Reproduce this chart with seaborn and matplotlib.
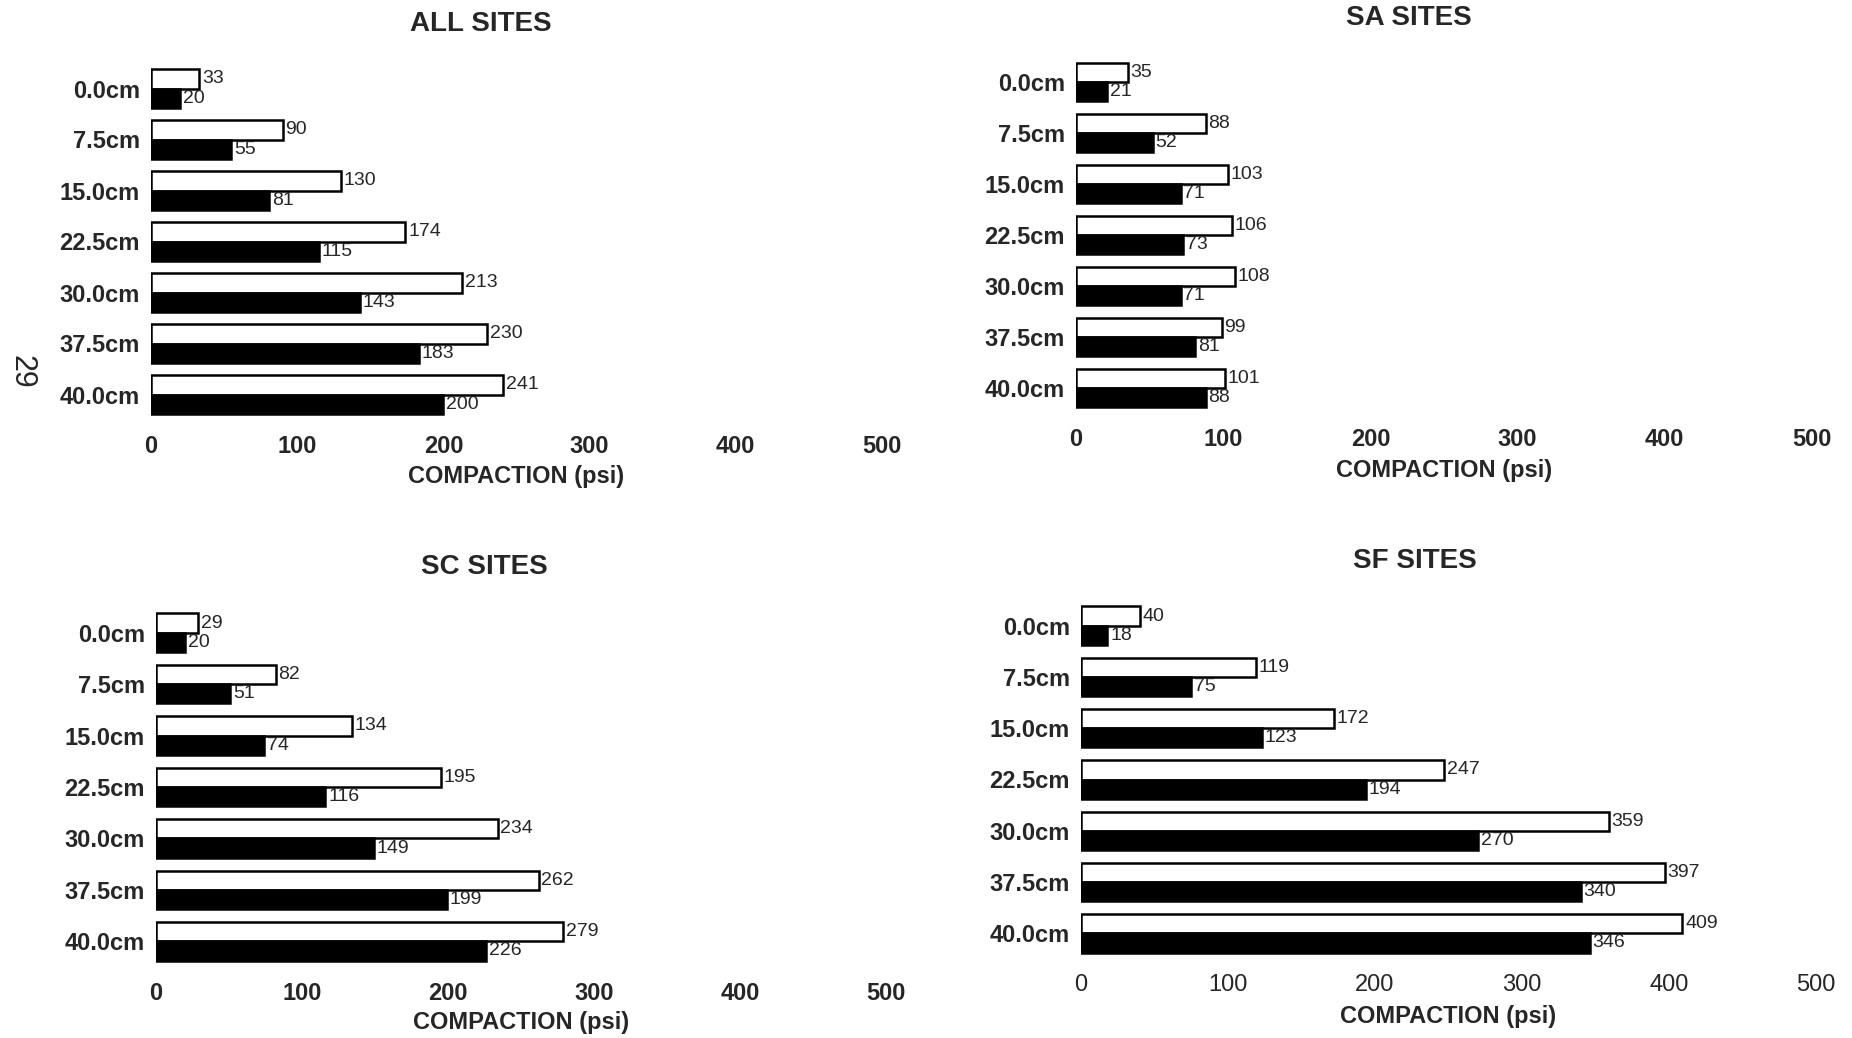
import matplotlib
matplotlib.use("Agg")
import matplotlib.pyplot as plt
import seaborn as sns
import pandas as pd

# Soil compaction by probe depth, two readings per depth
depths = ["0.0cm", "7.5cm", "15.0cm", "22.5cm", "30.0cm", "37.5cm", "40.0cm"]
x_ticks = [0, 100, 200, 300, 400, 500]
x_label = "COMPACTION (psi)"

all_open = [33, 90, 130, 174, 213, 230, 241]
all_solid = [20, 55, 81, 115, 143, 183, 200]

sa_open = [35, 88, 103, 106, 108, 99, 101]
sa_solid = [21, 52, 71, 73, 71, 81, 88]

sc_open = [29, 82, 134, 195, 234, 262, 279]
sc_solid = [20, 51, 74, 116, 149, 199, 226]

sf_open = [40, 119, 172, 247, 359, 397, 409]
sf_solid = [18, 75, 123, 194, 270, 340, 346]

titles = ["ALL SITES", "SA SITES", "SC SITES", "SF SITES"]
page_number = "29"

sns.set_theme(style="white")
NARROW = ["Liberation Sans Narrow", "Liberation Sans", "DejaVu Sans"]
plt.rcParams["font.family"] = NARROW

W, H = 1852, 1038
fig = plt.figure(figsize=(W / 100, H / 100), dpi=100)


def frame(open_vals, solid_vals):
    return pd.DataFrame({
        "depth": depths * 2,
        "reading": ["open"] * len(depths) + ["solid"] * len(depths),
        "psi": list(open_vals) + list(solid_vals),
    })


# pixel boxes: left, right, top, bottom ; title centre ; xlabel centre y ; tick weight
panels = [
    (all_open, all_solid, (151, 882, 63, 420), (481, 24), 477, "bold"),
    (sa_open, sa_solid, (1076, 1812, 57, 413), (1409, 18), 470, "bold"),
    (sc_open, sc_solid, (156, 886, 607, 967), (484, 567), 1023, "bold"),
    (sf_open, sf_solid, (1081, 1816, 600, 959), (1415, 561), 1017, "normal"),
]

for (ov, sv, box, tpos, xl_y, tw), title in zip(panels, titles):
    l, r, t, b = box
    ax = fig.add_axes([l / W, 1 - b / H, (r - l) / W, (b - t) / H])
    sns.barplot(
        data=frame(ov, sv), x="psi", y="depth", hue="reading", order=depths,
        hue_order=["open", "solid"], palette={"open": "white", "solid": "black"},
        orient="h", width=0.75, edgecolor="black", linewidth=1.8,
        legend=False, ax=ax, errorbar=None, saturation=1,
    )
    for cont in ax.containers:
        ax.bar_label(cont, padding=2, fontsize=14, family=NARROW)
    ax.set_xlim(0, 500)
    ax.set_ylim(6.5, -0.5)
    ax.set_xticks(x_ticks)
    ax.set_xticklabels([str(v) for v in x_ticks], fontsize=17, fontweight=tw)
    ax.set_yticks(range(len(depths)))
    ax.set_yticklabels(depths, fontsize=17, fontweight="bold")
    ax.tick_params(axis="x", length=0, pad=11)
    ax.tick_params(axis="y", length=0, pad=8)
    for s in ax.spines.values():
        s.set_visible(False)
    ax.set_ylabel("")
    ax.set_xlabel(x_label, fontsize=17, fontweight="bold")
    ax.xaxis.label.set_va("center")
    ax.xaxis.set_label_coords(0.5, -(xl_y - b) / (b - t))
    fig.text(tpos[0] / W, 1 - tpos[1] / H, title, ha="center", va="center",
             fontsize=20, fontweight="bold")

fig.text(21 / W, 1 - 372 / H, page_number, rotation=-90, ha="center",
         va="center", fontsize=22)

fig.savefig("out.png", dpi=100, facecolor="white")
